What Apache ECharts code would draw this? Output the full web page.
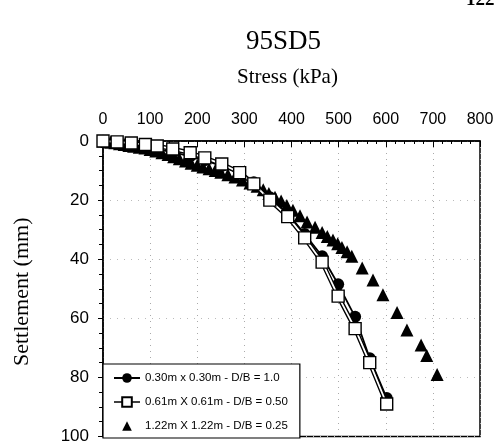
<!DOCTYPE html>
<html><head><meta charset="utf-8">
<script src="https://cdn.jsdelivr.net/npm/echarts@6/dist/echarts.min.js"></script>
<style>html,body{margin:0;padding:0;background:#fff}#c{width:499px;height:445px}</style>
</head><body><div id="c"></div>
<script>
const xTicks = [0,100,200,300,400,500,600,700,800];
const yTicks = [0,20,40,60,80,100];
const legendNames = ['0.30m x 0.30m - D/B = 1.0','0.61m X 0.61m - D/B = 0.50','1.22m X 1.22m - D/B = 0.25'];

const circStress = [0,30,60,90,115,148,185,216,252,290,320,354,392,428,465,499,535,566,602];
const circSettle = [0,0.5,1.2,2,2.8,3.8,5.2,6.5,8.5,11,14,19,24.5,31.5,39,48.5,59.5,73.5,87];

const sqStress = [0,30,60,90,115,148,185,216,252,290,320,354,392,428,465,499,535,566,602];
const sqSettle = [0,0.3,0.7,1.2,1.7,2.7,4,5.7,7.8,10.7,14.5,20,25.6,32.8,41,52.5,63.5,75,89];

const triStress = [0,8,16,25,35,45,55,65,77,89,100,112,125,138,150,162,175,187,200,212,225,238,250,265,280,296,312,327,340,352,365,378,390,403,418,433,450,465,476,488,498,507,518,528,550,573,594,624,645,675,687,709];
const triSettle = [0,0.2,0.4,0.6,0.9,1.2,1.5,1.8,2.1,2.4,2.9,3.4,4,4.6,5.3,6,6.8,7.5,8.2,8.8,9.4,10,10.6,11.4,12.2,13.2,14.2,15.3,16.5,17.8,19,20.3,21.8,23.4,25.3,27.4,29.2,31,32.3,33.5,34.8,36,37.5,39,43,47,52,58,64,69,72.6,79];

const pair = (xs, ys) => xs.map((x, i) => [x, ys[i]]);
const serif = 'Liberation Serif';
const sans = 'Liberation Sans';

const chart = echarts.init(document.getElementById('c'), null, {renderer: 'canvas'});
chart.setOption({
  animation: false,
  backgroundColor: '#fff',
  grid: {left: 103, top: 141, right: 19, bottom: 5, show: true, borderColor: '#000', borderWidth: 1.5},
  graphic: [
    {type: 'text', left: 246, top: 28, style: {text: '95SD5', font: '27px ' + serif, fill: '#000'}},
    {type: 'text', left: 237, top: 67, style: {text: 'Stress (kPa)', font: '21px ' + serif, fill: '#000'}},
    {type: 'text', left: 466, top: -9, style: {text: '122', font: 'bold 19px ' + serif, fill: '#000'}},
    {type: 'text', x: 11, y: 366, rotation: Math.PI / 2, style: {text: 'Settlement (mm)', font: '22px ' + serif, fill: '#000'}}
  ],
  legend: {
    left: 103, top: 364, orient: 'vertical',
    padding: [8, 12, 6, 10], itemGap: 12, itemWidth: 26, itemHeight: 12,
    borderColor: '#000', borderWidth: 1.2, backgroundColor: '#fff',
    textStyle: {fontFamily: sans, fontSize: 11.5, color: '#000'},
    data: [
      {name: legendNames[0]},
      {name: legendNames[1], lineStyle: {width: 1.5, color: '#000'}},
      {name: legendNames[2]}
    ]
  },
  xAxis: {
    type: 'value', position: 'top', min: 0, max: 800, interval: 100,
    axisLine: {lineStyle: {color: '#000', width: 1.5}},
    axisTick: {inside: true, length: 6, lineStyle: {color: '#000'}},
    minorTick: {show: true, splitNumber: 5, length: 3, lineStyle: {color: '#000'}},
    axisLabel: {fontFamily: sans, fontSize: 16, color: '#000', margin: 13,
      formatter: v => xTicks.includes(v) ? String(v) : ''},
    splitLine: {show: true, lineStyle: {type: [1, 5], color: '#aaa', width: 1}}
  },
  yAxis: {
    type: 'value', inverse: true, min: 0, max: 100, interval: 20,
    axisLine: {lineStyle: {color: '#000', width: 1.5}},
    axisTick: {inside: false, length: 5, lineStyle: {color: '#000'}},
    minorTick: {show: true, splitNumber: 4, length: 4, lineStyle: {color: '#000'}},
    axisLabel: {fontFamily: sans, fontSize: 17, color: '#000', margin: 14,
      formatter: v => yTicks.includes(v) ? String(v) : ''},
    splitLine: {show: true, lineStyle: {type: [1, 6], color: '#bbb', width: 1}}
  },
  series: [
    {name: legendNames[2], type: 'line', data: pair(triStress, triSettle), symbol: 'triangle', symbolSize: 13,
      lineStyle: {width: 0}, itemStyle: {color: '#000'}, z: 2},
    {name: legendNames[0], type: 'line', data: pair(circStress, circSettle), symbol: 'circle', symbolSize: 12,
      lineStyle: {width: 1.8, color: '#000'}, itemStyle: {color: '#000'}, z: 3},
    {name: 'sqOuter', type: 'line', data: pair(sqStress, sqSettle), symbol: 'none',
      lineStyle: {width: 4.5, color: '#000'}, z: 4},
    {name: 'sqInner', type: 'line', data: pair(sqStress, sqSettle), symbol: 'none',
      lineStyle: {width: 1.8, color: '#fff'}, z: 5},
    {name: legendNames[1], type: 'line', data: pair(sqStress, sqSettle), symbol: 'rect', symbolSize: 12,
      lineStyle: {width: 0}, itemStyle: {color: '#fff', borderColor: '#000', borderWidth: 1.4}, z: 6}
  ]
});
</script></body></html>
